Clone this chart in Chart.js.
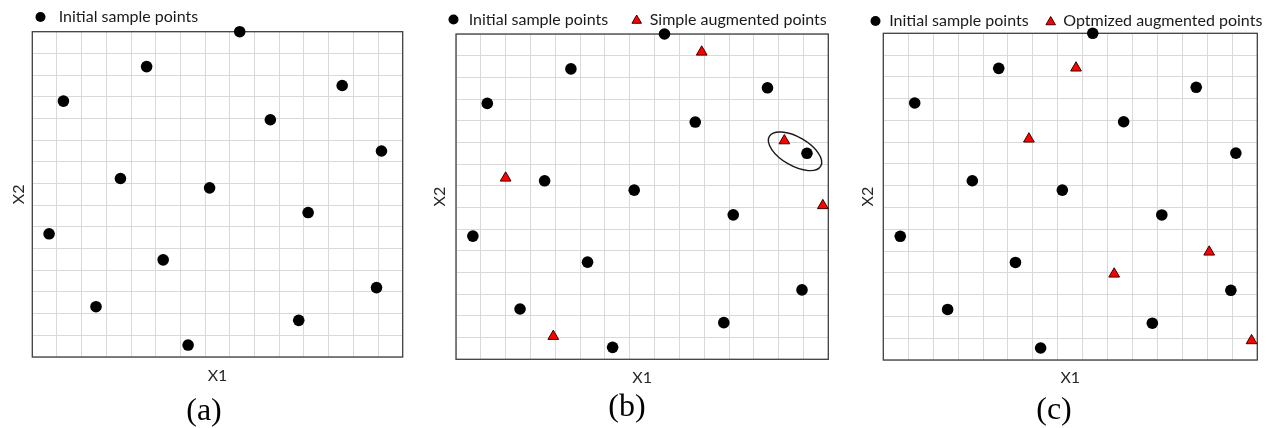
<!DOCTYPE html>
<html>
<head>
<meta charset="utf-8">
<title>Sample point augmentation</title>
<script src="https://cdn.jsdelivr.net/npm/chart.js@4.4.1/dist/chart.umd.min.js"></script>
<style>
  html, body { margin: 0; padding: 0; background: #ffffff; }
  body { width: 1273px; height: 428px; position: relative; overflow: hidden; }
  canvas { position: absolute; top: 0; }
</style>
</head>
<body>
<canvas id="panelA" width="406" height="428" style="left:0px"></canvas>
<canvas id="panelB" width="412" height="428" style="left:420px"></canvas>
<canvas id="panelC" width="414" height="428" style="left:850px"></canvas>
<script>
// ---- data (design space X1, X2 both span 0..15) ----
const axisMin = 0;
const axisMax = 15;

const initialX = [8.40, 4.63, 1.26, 12.55, 9.64, 14.14, 3.57, 7.18, 11.17, 0.68, 5.30, 2.58, 13.94, 10.79, 6.31];
const initialY = [15.00, 13.39, 11.80, 12.52, 10.94, 9.50, 8.23, 7.80, 6.66, 5.68, 4.48, 2.32, 3.20, 1.69, 0.55];

const simpleX = [9.90, 13.23, 2.00, 14.78, 3.92];
const simpleY = [14.17, 10.08, 8.36, 7.09, 1.06];

const optimizedX = [7.73, 5.84, 9.26, 13.07, 14.77];
const optimizedY = [13.41, 10.15, 3.95, 4.96, 0.89];

const seriesNames = ['Initial sample points', 'Simple augmented points', 'Optmized augmented points'];
const panelLabels = ['(a)', '(b)', '(c)'];
const axisTitles = ['X1', 'X2'];

// ellipse highlighting a near-duplicate pair in panel (b): centre in data units
const highlightCenter = [13.66, 9.59];

// ---- helpers ----
const pairs = (xs, ys) => xs.map((x, i) => ({ x, y: ys[i] }));

const circleSet = (label) => ({
  label,
  data: pairs(initialX, initialY),
  pointStyle: 'circle',
  pointRadius: 5.8,
  backgroundColor: '#000000',
  borderColor: '#000000',
  borderWidth: 0,
  showLine: false,
  clip: false
});

const triangleSet = (label, xs, ys) => ({
  label,
  data: pairs(xs, ys),
  pointStyle: 'triangle',
  pointRadius: 6.2,
  backgroundColor: '#ff0000',
  borderColor: '#3a0000',
  borderWidth: 1,
  showLine: false,
  clip: false
});

// box round the plotting area
const framePlugin = {
  id: 'frame',
  beforeDatasetsDraw(chart) {
    const { ctx, chartArea: a } = chart;
    ctx.save();
    ctx.strokeStyle = '#404040';
    ctx.lineWidth = 1.3;
    ctx.strokeRect(a.left, a.top, a.right - a.left, a.bottom - a.top);
    ctx.restore();
  }
};

// outline ellipse placed through the chart's own scales
const ellipsePlugin = {
  id: 'ringMark',
  afterDatasetsDraw(chart, args, opts) {
    if (!opts || !opts.center) return;
    const { ctx, scales } = chart;
    const cx = scales.x.getPixelForValue(opts.center[0]);
    const cy = scales.y.getPixelForValue(opts.center[1]);
    ctx.save();
    ctx.beginPath();
    ctx.ellipse(cx, cy, opts.rx, opts.ry, opts.angle * Math.PI / 180, 0, Math.PI * 2);
    ctx.strokeStyle = '#1a1a1a';
    ctx.lineWidth = 1.4;
    ctx.stroke();
    ctx.restore();
  }
};

// single-row legend with marker symbols
const markerLegend = {
  id: 'markerLegend',
  afterDraw(chart, args, opts) {
    const { ctx } = chart;
    ctx.save();
    ctx.font = `${opts.size}px ${opts.family}`;
    ctx.textBaseline = 'middle';
    ctx.textAlign = 'left';
    chart.data.datasets.forEach((ds, i) => {
      const it = opts.items[i];
      ctx.fillStyle = ds.backgroundColor;
      ctx.strokeStyle = ds.borderColor;
      ctx.lineWidth = ds.borderWidth;
      Chart.helpers.drawPoint(ctx, {
        pointStyle: ds.pointStyle,
        radius: ds.pointStyle === 'triangle' ? opts.triRadius : opts.radius,
        borderWidth: ds.borderWidth,
        rotation: 0
      }, it.marker, opts.y + (ds.pointStyle === 'triangle' ? 1 : 0));
      ctx.fillStyle = '#1a1a1a';
      ctx.fillText(ds.label, it.text, opts.y);
    });
    ctx.restore();
  }
};

function makePanel(canvasId, datasets, label, lay) {
  const axisFont = { family: 'Lato', size: 16 };
  const scaleBase = {
    type: 'linear',
    min: axisMin,
    max: axisMax,
    ticks: { display: false, stepSize: 1 },
    grid: { color: '#d9d9d9', lineWidth: 1, drawTicks: false },
    border: { display: false }
  };
  return new Chart(document.getElementById(canvasId), {
    type: 'scatter',
    data: { datasets },
    options: {
      responsive: false,
      animation: false,
      events: [],
      layout: {
        autoPadding: false,
        padding: { left: lay.padL, right: lay.padR, top: lay.padT, bottom: 0 }
      },
      scales: {
        x: Object.assign({}, scaleBase, {
          position: 'bottom',
          title: { display: true, text: axisTitles[0], color: '#262626', font: axisFont,
                   padding: { top: lay.xtp, bottom: 0 } }
        }),
        y: Object.assign({}, scaleBase, {
          position: 'left',
          title: { display: true, text: axisTitles[1], color: '#262626', font: axisFont,
                   padding: { top: lay.ytp, bottom: lay.ybp } }
        })
      },
      plugins: {
        legend: { display: false },
        tooltip: { enabled: false },
        title: {
          display: true,
          position: 'bottom',
          text: label,
          color: '#000000',
          font: { family: 'Liberation Serif', size: 32, weight: 'normal', lineHeight: 1 },
          padding: { top: lay.tpT, bottom: lay.tpB }
        },
        markerLegend: {
          family: 'Lato', size: 16, radius: 5, triRadius: 5.5,
          y: lay.legendY, items: lay.legendItems
        },
        ringMark: lay.ring || {}
      }
    },
    plugins: [framePlugin, ellipsePlugin, markerLegend]
  });
}

makePanel('panelA',
  [circleSet(seriesNames[0])],
  panelLabels[0],
  { padL: 5.3, padR: 3.3, padT: 31.7, xtp: 9.4, ytp: 4.1, ybp: 3.7, tpT: 10.4, tpB: 0,
    legendY: 17, legendItems: [{ marker: 40.5, text: 58.7 }] });

makePanel('panelB',
  [circleSet(seriesNames[0]), triangleSet(seriesNames[1], simpleX, simpleY)],
  panelLabels[1],
  { padL: 5.7, padR: 3.7, padT: 34, xtp: 9.1, ytp: 4.7, ybp: 6.4, tpT: 4.4, tpB: 4.0,
    legendY: 19.5, legendItems: [{ marker: 33.5, text: 48.7 }, { marker: 216.7, text: 229.7 }],
    ring: { center: highlightCenter, rx: 29.7, ry: 14.3, angle: 30 } });

makePanel('panelC',
  [circleSet(seriesNames[0]), triangleSet(seriesNames[2], optimizedX, optimizedY)],
  panelLabels[2],
  { padL: 0.7, padR: 6.7, padT: 33.3, xtp: 8.4, ytp: 7.7, ybp: 5.7, tpT: 7.4, tpB: 1.0,
    legendY: 21, legendItems: [{ marker: 25.5, text: 39.2 }, { marker: 200.7, text: 213.3 }] });
</script>
</body>
</html>
